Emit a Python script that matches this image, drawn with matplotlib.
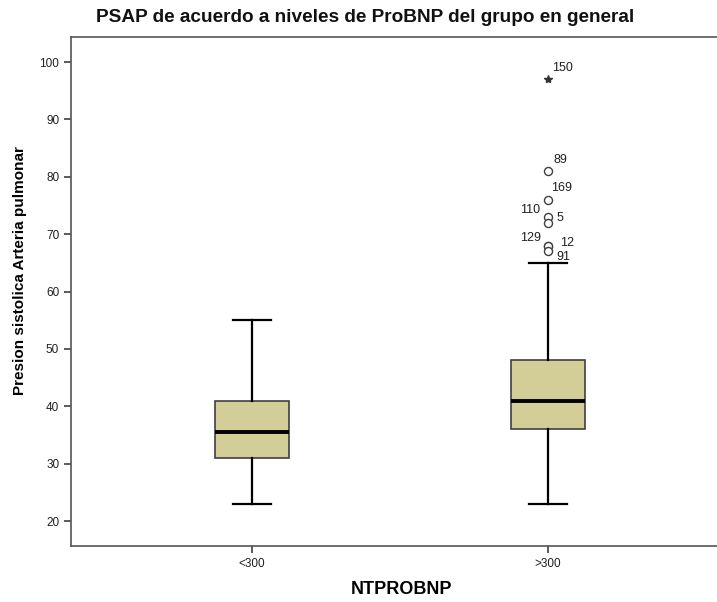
import numpy as np
import matplotlib.pyplot as plt

plt.rcParams['font.family'] = ['Liberation Sans', 'DejaVu Sans']

# resumen de cada grupo (PSAP en mmHg)
grupos = ['<300', '>300']
bigote_inf = [23, 23]
q1 = [31, 36]
mediana = [35.5, 41]
q3 = [41, 48]
bigote_sup = [55, 65]

# valores atipicos del grupo >300
atipicos_val = [81, 76, 73, 72, 68, 68, 67]
atipicos_id = ['89', '169', '110', '5', '129', '12', '91']
extremo_val = [97]
extremo_id = ['150']

stats = []
for i in range(len(grupos)):
    stats.append({'med': mediana[i], 'q1': q1[i], 'q3': q3[i],
                  'whislo': bigote_inf[i], 'whishi': bigote_sup[i],
                  'fliers': atipicos_val if i == 1 else [], 'label': grupos[i]})

fig = plt.figure(figsize=(7.17, 6.02), dpi=100)
ax = fig.add_axes([71/717, 56/602, 1 - 71/717, 509/602])

pos = np.arange(len(grupos))
ax.bxp(stats, positions=pos, widths=0.248, capwidths=0.13, patch_artist=True,
       boxprops=dict(facecolor='#d3cd97', edgecolor='#404040', linewidth=1.2),
       medianprops=dict(color='black', linewidth=2.8),
       whiskerprops=dict(color='black', linewidth=1.6),
       capprops=dict(color='black', linewidth=1.6),
       flierprops=dict(marker='o', markersize=5.8, markerfacecolor='white',
                       markeredgecolor='#404040', markeredgewidth=1.0))

# caso extremo
ax.plot([pos[1]] * len(extremo_val), extremo_val, marker='*', linestyle='none',
        markersize=6, color='#333333')

# etiquetas de los casos
despl = {'150': (3, 6), '89': (4, 6), '169': (2, 6), '110': (-20, 3), '5': (6, 1),
         '129': (-20, 3), '12': (9, 0), '91': (6, -6)}
for v, t in zip(extremo_val + atipicos_val, extremo_id + atipicos_id):
    ax.annotate(t, (pos[1], v), xytext=despl[t], textcoords='offset points',
                fontsize=9, color='#202020')

ax.set_xlim(-181/296, 1 + 169/296)
ax.set_ylim(20 - 25/5.7375, 100 + 25/5.7375)
ax.set_yticks(np.arange(20, 101, 10))
ax.set_xticks(pos)
ax.set_xticklabels(grupos)
ax.tick_params(axis='both', labelsize=8.5, colors='#202020', length=5, width=1.2)
ax.tick_params(axis='both', color='#404040')
for lado in ['left', 'bottom', 'top']:
    ax.spines[lado].set_color('#555555')
    ax.spines[lado].set_linewidth(1.2)
ax.spines['right'].set_visible(False)

fig.text(365/717, 1 - 18/602, 'PSAP de acuerdo a niveles de ProBNP del grupo en general',
         ha='center', va='center', fontsize=13.7, fontweight='bold', color='#111111')
fig.text(20/717, 1 - 271/602, 'Presion sistolica Arteria pulmonar', rotation=90,
         ha='center', va='center', fontsize=11, fontweight='bold')
fig.text(401/717, 1 - 589/602, 'NTPROBNP', ha='center', va='center',
         fontsize=13, fontweight='bold')

fig.savefig('out.png', dpi=100)
